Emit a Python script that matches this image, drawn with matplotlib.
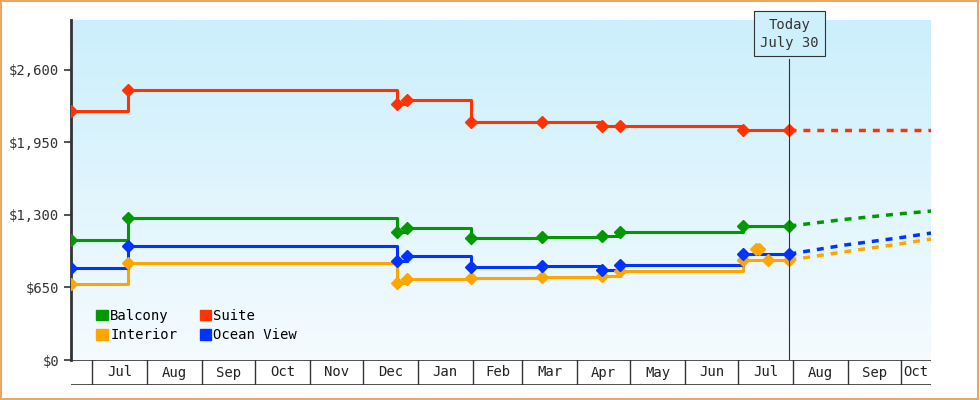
import numpy as np
import matplotlib.pyplot as plt
import matplotlib.dates as mdates
from matplotlib.patches import Patch
from matplotlib.colors import LinearSegmentedColormap
from datetime import date

plt.rcParams['font.family'] = ['DejaVu Sans Mono']

# price change dates (shared by all cabins) and values
change_dates = ['2024-06-19', '2024-07-21', '2024-12-20', '2024-12-26', '2025-01-31',
                '2025-03-12', '2025-04-15', '2025-04-25', '2025-07-04', '2025-07-30']
balcony = [1075, 1273, 1147, 1183, 1093, 1102, 1111, 1147, 1201, 1201]
suite = [2232, 2421, 2295, 2331, 2134, 2134, 2098, 2098, 2062, 2062]
ocean_view = [824, 1022, 887, 932, 833, 842, 806, 851, 950, 950]
interior = [681, 869, 690, 726, 735, 744, 753, 797, 896, 896]

# stray interior quotes in July
interior_extra_dates = ['2025-07-11', '2025-07-13', '2025-07-18']
interior_extra = [995, 995, 896]

# projection after today
proj_dates = ['2025-07-30', '2025-08-30', '2025-09-30', '2025-10-18']
balcony_proj = [1201, 1260, 1310, 1335]
suite_proj = [2062, 2062, 2062, 2062]
ocean_proj = [950, 1030, 1095, 1138]
interior_proj = [896, 970, 1040, 1084]

series = [
    ('Balcony', balcony, balcony_proj, '#009900'),
    ('Interior', interior, interior_proj, '#ffa500'),
    ('Suite', suite, suite_proj, '#ff3300'),
    ('Ocean View', ocean_view, ocean_proj, '#0033ff'),
]

x_start = mdates.date2num(date(2024, 6, 19))
x_end = mdates.date2num(date(2025, 10, 18))
today = mdates.date2num(date(2025, 7, 30))

fig = plt.figure(figsize=(9.8, 4.0), dpi=100)
fig.patches.append(plt.Rectangle((0.001, 0.002), 0.997, 0.995, transform=fig.transFigure,
                                 fill=False, edgecolor='#e8a860', linewidth=1.5))
ax = fig.add_axes([71 / 980, 40 / 400, 860 / 980, 340 / 400])

# gradient background
grad = np.linspace(0, 1, 256).reshape(-1, 1)
cmap = LinearSegmentedColormap.from_list('bg', ['#f5fbff', '#cbeffc'])
ax.imshow(grad, aspect='auto', cmap=cmap, origin='lower',
          extent=[x_start, x_end, 0, 3048], zorder=0)

cd = mdates.datestr2num(change_dates)
pd_ = mdates.datestr2num(proj_dates)
for name, vals, proj, col in series:
    ax.step(cd, vals, where='post', color=col, linewidth=2.2, zorder=3)
    ax.plot(cd, vals, 'D', color=col, markersize=6, zorder=4)
    ax.plot(pd_, proj, color=col, linewidth=2.5, linestyle=(0, (2, 2)), zorder=3)

ax.plot(mdates.datestr2num(interior_extra_dates), interior_extra, 'D',
        color='#ffa500', markersize=6, zorder=4)

# today marker
ax.axvline(today, ymax=2700 / 3048, color='#333333', linewidth=0.8, zorder=5)
ax.text(today, 2925, 'Today\nJuly 30', ha='center', va='center', fontsize=10, color='#333333',
        linespacing=1.4, zorder=6,
        bbox=dict(boxstyle='square,pad=0.45', facecolor='#cdf0fc', edgecolor='#333333', linewidth=0.8))

ax.set_xlim(x_start, x_end)
ax.set_ylim(0, 3048)
ax.set_yticks([0, 650, 1300, 1950, 2600])
ax.set_yticklabels(['$0', '$650', '$1,300', '$1,950', '$2,600'])
ax.tick_params(axis='y', labelsize=10, colors='#333333', length=5, width=1.2)
ax.set_xticks([])
for s in ['top', 'right', 'bottom']:
    ax.spines[s].set_visible(False)
ax.spines['left'].set_linewidth(2)
ax.spines['left'].set_color('#333333')

handles = [Patch(color=c, label=n) for n, _, _, c in series]
ax.legend(handles=handles, ncol=2, loc='lower left', bbox_to_anchor=(0.015, 0.015), frameon=False,
          fontsize=10, handlelength=0.8, handleheight=0.8, handletextpad=0.2,
          columnspacing=1.6, labelspacing=0.4)

# month strip below the plot
axm = fig.add_axes([71 / 980, 15 / 400, 860 / 980, 25 / 400])
axm.set_xlim(x_start, x_end)
axm.set_ylim(0, 1)
axm.axis('off')
months = [date(2024, m, 1) for m in range(7, 13)] + [date(2025, m, 1) for m in range(1, 11)]
bounds = [x_start] + [mdates.date2num(d) for d in months] + [x_end]
for b in bounds[1:-1]:
    axm.plot([b, b], [0, 1], color='#333333', linewidth=1)
axm.plot([x_start, x_end], [0, 0], color='#333333', linewidth=1.2)
axm.plot([x_start, x_end], [1, 1], color='#333333', linewidth=1.2)
for i, d in enumerate(months):
    lo = bounds[i + 1]
    hi = bounds[i + 2]
    axm.text((lo + hi) / 2, 0.5, d.strftime('%b'), ha='center', va='center',
             fontsize=10, color='#222222')

fig.savefig('out.png', dpi=100)
